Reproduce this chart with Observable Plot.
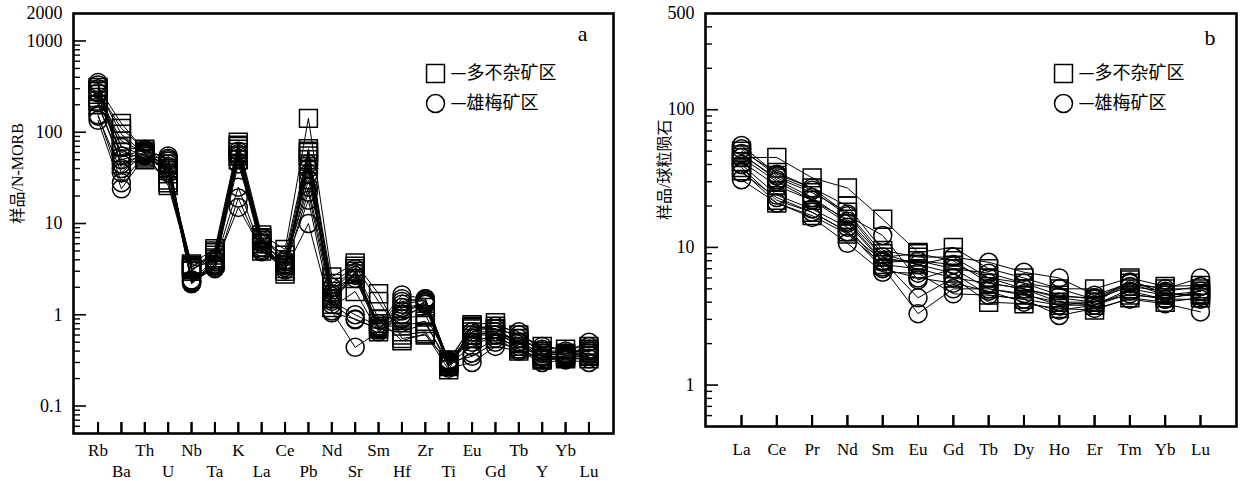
<!DOCTYPE html>
<html><head><meta charset="utf-8">
<script src="https://cdn.jsdelivr.net/npm/d3@7"></script>
<script src="https://cdn.jsdelivr.net/npm/@observablehq/plot@0.6"></script>
<style>
body{margin:0;background:#fff;}
#wrap{display:flex;width:1243px;height:481px;background:#fff;}
</style></head><body><div id="wrap"></div>
<script>
// ---------- Panel a: N-MORB normalised spider diagram ----------
const elementsA = ["Rb","Ba","Th","U","Nb","Ta","K","La","Ce","Pb","Nd","Sr","Sm","Hf","Zr","Ti","Eu","Gd","Tb","Y","Yb","Lu"];
// 多不杂矿区 (squares)
const duobuzaA = [
  [310,125,62,35,3.6,5.3,78,7.5,5.2,142,2.6,3.7,1.7,0.55,0.6,0.30,0.78,0.82,0.60,0.45,0.42,0.45],
  [290,95,58,28,3.3,4.8,72,6.8,4.5,66,2.2,3.4,1.4,0.60,0.65,0.28,0.72,0.75,0.55,0.40,0.38,0.40],
  [260,80,60,26,3.1,4.5,65,6.5,3.0,62,1.8,3.2,0.9,0.52,0.62,0.25,0.70,0.70,0.50,0.38,0.36,0.38],
  [240,70,55,40,3.5,4.2,60,6.0,2.8,55,1.5,2.8,0.75,0.75,0.85,0.27,0.65,0.65,0.45,0.35,0.34,0.35],
  [220,60,52,38,3.4,3.8,55,5.5,3.5,50,1.3,3.0,0.70,0.65,0.80,0.30,0.60,0.60,0.42,0.33,0.33,0.33],
  [280,110,65,45,3.0,5.0,70,7.0,4.0,60,2.0,2.5,0.80,0.90,1.0,0.32,0.75,0.70,0.48,0.36,0.37,0.42],
  [200,45,50,30,3.2,4.0,50,5.0,3.2,45,1.2,1.8,0.65,1.0,1.2,0.29,0.55,0.55,0.40,0.32,0.35,0.36]
];
// 雄梅矿区 (circles)
const xiongmeiA = [
  [350,50,60,55,2.3,3.3,62,6.0,3.8,45,1.6,2.9,0.80,1.65,1.5,0.30,0.60,0.65,0.50,0.38,0.36,0.38],
  [330,40,62,52,2.4,3.5,55,5.5,3.3,40,1.4,1.0,0.75,1.5,1.4,0.32,0.50,0.60,0.55,0.42,0.38,0.42],
  [150,36,58,48,2.2,3.6,25,5.0,3.3,22,1.3,0.88,0.70,1.3,1.45,0.28,0.38,0.55,0.45,0.35,0.34,0.36],
  [135,24,55,45,2.3,3.2,19,4.9,3.6,18,1.1,0.44,0.65,1.1,1.35,0.26,0.30,0.45,0.40,0.30,0.32,0.30],
  [155,28,57,42,2.2,3.4,15,5.2,3.1,10,1.05,0.9,0.70,1.2,1.3,0.30,0.35,0.50,0.42,0.32,0.33,0.33],
  [300,68,65,50,2.4,4.0,58,7.0,4.0,35,1.7,2.7,0.70,1.4,1.5,0.31,0.55,0.70,0.60,0.45,0.40,0.50],
  [270,55,63,40,2.3,3.8,52,6.5,3.5,30,2.0,3.2,0.72,1.0,1.4,0.30,0.65,0.75,0.65,0.40,0.37,0.45],
  [210,45,58,36,2.3,3.5,45,6.2,3.8,25,1.5,2.5,0.68,0.9,1.3,0.29,0.45,0.60,0.50,0.34,0.35,0.40]
];
const yTicksA = [2000,1000,100,10,1,0.1];
const yMajorA = [1000,100,10,1,0.1];
const yMinorA = [0.06,0.07,0.08,0.09,0.2,0.3,0.4,0.5,0.6,0.7,0.8,0.9,2,3,4,5,6,7,8,9,20,30,40,50,60,70,80,90,200,300,400,500,600,700,800,900];
const titleA = "样品/N-MORB";

// ---------- Panel b: chondrite normalised REE ----------
const elementsB = ["La","Ce","Pr","Nd","Sm","Eu","Gd","Tb","Dy","Ho","Er","Tm","Yb","Lu"];
const duobuzaB = [
  [45,45,32,27,16,9.2,10,7.0,6.0,5.0,5.0,6.0,5.2,5.3],
  [50,35,27,20,9.5,8.5,8.5,6.0,5.5,4.5,4.2,5.5,5.0,5.0],
  [38,22,18,13,8.0,8.0,7.0,5.0,4.5,4.0,3.8,5.0,4.5,4.8],
  [36,21,17,12.5,7.5,7.0,6.0,4.0,3.9,3.6,3.5,4.3,4.0,4.3],
  [42,28,22,16,8.5,9.0,8.0,5.5,5.0,4.3,4.0,5.8,4.6,4.5],
  [47,32,25,18,9.0,7.5,6.5,4.5,4.2,3.8,4.0,4.5,4.3,4.6]
];
const xiongmeiB = [
  [55,34,27,17.5,8.5,7.5,8.5,7.8,6.6,6.0,4.5,5.5,5.0,6.0],
  [52,33,26,17,12.2,5.8,7.0,6.5,5.5,5.0,4.2,5.2,4.8,5.2],
  [48,31,23,15.5,8.0,4.3,6.0,5.5,5.0,4.0,4.0,5.5,4.5,4.6],
  [40,24,19,14,7.2,3.3,5.0,5.0,4.6,3.8,3.8,4.8,4.2,4.8],
  [31,21,16.5,10.7,6.6,6.5,4.6,4.5,4.2,3.2,3.6,4.2,3.9,3.4],
  [45,30,22,15,7.8,8.0,7.5,6.0,5.0,4.4,4.3,5.6,4.7,4.4],
  [35,23,18,13,7.0,6.0,5.5,4.8,4.0,3.5,3.8,4.6,4.2,4.2]
];
const yTicksB = [500,100,10,1];
const yMajorB = [100,10,1];
const yMinorB = [0.6,0.7,0.8,0.9,2,3,4,5,6,7,8,9,20,30,40,50,60,70,80,90,200,300,400];
const titleB = "样品/球粒陨石";

const legendNames = ["—多不杂矿区","—雄梅矿区"];

// ---------- helpers ----------
const serif = "'Liberation Serif','Times New Roman','Noto Sans CJK SC',serif";
const cjk = "'Noto Sans CJK SC','Noto Sans CJK JP',sans-serif";
function tidy(elements, rows, group) {
  return rows.flatMap((vals, s) => vals.map((v, i) => ({el: elements[i], v, sample: group + s, group})));
}
const blank = () => "";

function panel(o) {
  const data = [...tidy(o.elements, o.squares, "sq"), ...tidy(o.elements, o.circles, "ci")];
  const fw = o.width - o.marginLeft - 7;       // frame width
  const fh = 481 - 13 - o.marginBottom;        // frame height
  const marks = [
    Plot.line(data, {x: "el", y: "v", z: "sample", stroke: "black", strokeWidth: 1}),
    Plot.dot(data.filter(d => d.group === "sq"), {x: "el", y: "v", symbol: "square", r: 10.1, stroke: "black", strokeWidth: 1.5, fill: "none"}),
    Plot.dot(data.filter(d => d.group === "ci"), {x: "el", y: "v", symbol: "circle", r: 9, stroke: "black", strokeWidth: 1.5, fill: "none"}),
    // y tick labels
    Plot.text(o.yTicks, {y: d => d, text: d => String(d), frameAnchor: "left", dx: -11, textAnchor: "end", fontSize: 18, fontFamily: serif, fill: "black"}),
    // inward major / minor y ticks
    Plot.ruleY(o.yMajor, {y: d => d, insetRight: fw - 13, stroke: "black", strokeWidth: 1.6}),
    Plot.ruleY(o.yMinor, {y: d => d, insetRight: fw - 7, stroke: "black", strokeWidth: 1.4}),
    // inward x ticks
    Plot.ruleX(o.elements, {x: d => d, insetTop: fh - 11, stroke: "black", strokeWidth: 2}),
    Plot.axisX({tickSize: 11, dy: -11, tickFormat: blank, label: null, stroke: "black", strokeWidth: 2}),
    // x labels
    ...o.xRows.map(r => Plot.axisX({ticks: r.ticks, tickSize: 0, tickPadding: r.pad, label: null, fontSize: 17, fontFamily: serif, fill: "black"})),
    Plot.frame({stroke: "black", strokeWidth: 2.6}),
    // axis title
    Plot.text([o.title], {frameAnchor: "left", dx: o.titleDx, rotate: -90, lineAnchor: "middle", fontSize: 16, fontFamily: serif, fill: "black"}),
    // panel letter
    Plot.text([o.letter], {frameAnchor: "top-right", dx: o.letterDx, dy: o.letterDy, lineAnchor: "middle", fontSize: 22, fontFamily: serif, fill: "black"}),
    // legend
    Plot.dot([0], {frameAnchor: "top-left", dx: o.legX, dy: 60, symbol: "square", r: 10.1, stroke: "black", strokeWidth: 1.5, fill: "none"}),
    Plot.dot([0], {frameAnchor: "top-left", dx: o.legX, dy: 90, symbol: "circle", r: 9, stroke: "black", strokeWidth: 1.5, fill: "none"}),
    Plot.text([legendNames[0]], {frameAnchor: "top-left", dx: o.legX + 15, dy: 60, textAnchor: "start", lineAnchor: "middle", fontSize: 18, fontFamily: cjk, fill: "black"}),
    Plot.text([legendNames[1]], {frameAnchor: "top-left", dx: o.legX + 15, dy: 90, textAnchor: "start", lineAnchor: "middle", fontSize: 18, fontFamily: cjk, fill: "black"})
  ];
  return Plot.plot({
    width: o.width, height: 481,
    marginLeft: o.marginLeft, marginRight: 7, marginTop: 13, marginBottom: o.marginBottom,
    style: {fontFamily: serif, fontSize: "17px", background: "white", color: "black"},
    x: {type: "point", domain: o.elements, padding: o.pad, round: false, axis: null},
    y: {type: "log", domain: o.domain, axis: null},
    marks
  });
}

const wrap = document.getElementById("wrap");
wrap.append(panel({
  elements: elementsA, squares: duobuzaA, circles: xiongmeiA,
  width: 620, marginLeft: 73, marginBottom: 48, domain: [0.05, 2000], pad: 1.05,
  yTicks: yTicksA, yMajor: yMajorA, yMinor: yMinorA,
  xRows: [{ticks: elementsA.filter((d, i) => i % 2 === 0), pad: 10}, {ticks: elementsA.filter((d, i) => i % 2 === 1), pad: 31}],
  title: titleA, titleDx: -56, letter: "a", letterDx: -26, letterDy: 20, legX: 362
}));
wrap.append(panel({
  elements: elementsB, squares: duobuzaB, circles: xiongmeiB,
  width: 623, marginLeft: 85, marginBottom: 55, domain: [0.5, 500], pad: 1.02,
  yTicks: yTicksB, yMajor: yMajorB, yMinor: yMinorB,
  xRows: [{ticks: elementsB, pad: 16}],
  title: titleB, titleDx: -41, letter: "b", letterDx: -21, letterDy: 24, legX: 358
}));
</script></body></html>
